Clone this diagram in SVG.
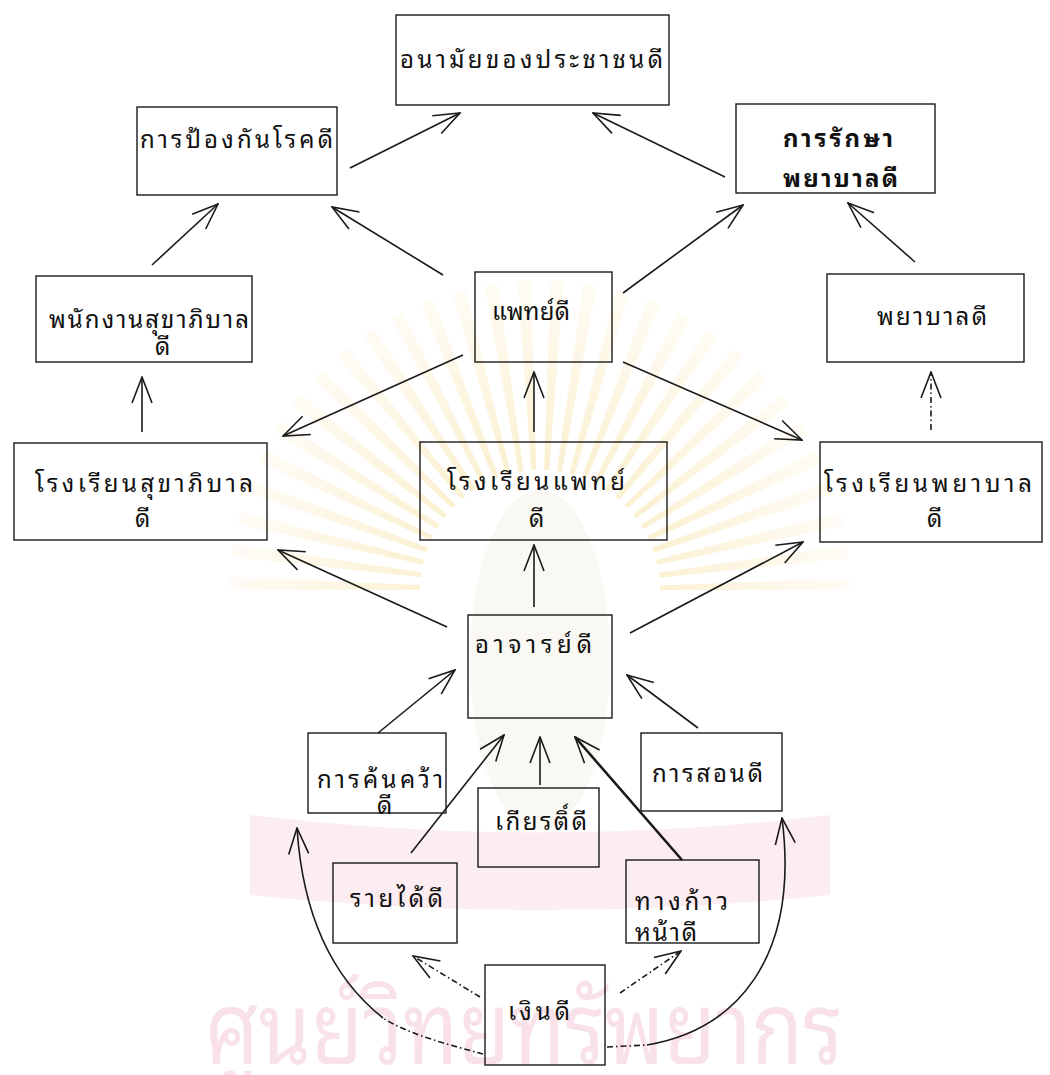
<svg xmlns="http://www.w3.org/2000/svg" width="1050" height="1075" viewBox="0 0 1050 1075">
<style>
.box{fill:none;stroke:#1a1a1a;stroke-width:1.4}
.t{font-family:"Noto Sans Thai Looped","Noto Sans Thai","Noto Sans","DejaVu Sans",sans-serif;font-size:24px;fill:#111}
.b{font-weight:bold}
.c{fill:none;stroke:#1a1a1a;stroke-width:1.6;marker-end:url(#ah)}
.d{stroke-dasharray:6 3 1.5 3}
.wm{font-family:"Noto Sans Thai Looped","Noto Sans Thai","Noto Sans","DejaVu Sans",sans-serif;font-size:100px;fill:#f8e1e8}
</style>
<defs>
<marker id="ah" viewBox="0 0 28 22" refX="27" refY="11" markerWidth="28" markerHeight="22" markerUnits="userSpaceOnUse" orient="auto">
<path d="M1,1 L27,11 L1,21" fill="none" stroke="#1a1a1a" stroke-width="1.6"/>
</marker>
<radialGradient id="rg" gradientUnits="userSpaceOnUse" cx="540" cy="575" r="300">
<stop offset="0.35" stop-color="#f8e8b8"/>
<stop offset="1" stop-color="#fefaef"/>
</radialGradient>
</defs>
<rect width="1050" height="1075" fill="#ffffff"/>
<g id="watermark">
<path d="M325,590 A215,215 0 0 1 755,590" fill="none" stroke="url(#rg)" stroke-width="190" stroke-dasharray="9 14" opacity="0.65"/>
<ellipse cx="540" cy="660" rx="70" ry="170" fill="#faf8f2"/>
<path d="M250,815 Q540,850 830,815 L830,895 Q540,925 250,895 Z" fill="#fcedf2"/>
<text class="wm" x="205" y="1064" textLength="638" lengthAdjust="spacingAndGlyphs">ศูนย์วิทยทรัพยากร</text>
</g>
<g id="connectors">
<line class="c" x1="350" y1="168" x2="460" y2="113"/>
<line class="c" x1="725" y1="177" x2="593" y2="113"/>
<line class="c" x1="152" y1="265" x2="218" y2="204"/>
<line class="c" x1="443" y1="275" x2="332" y2="207"/>
<line class="c" x1="623" y1="293" x2="743" y2="205"/>
<line class="c" x1="915" y1="262" x2="848" y2="203"/>
<line class="c" x1="142" y1="432" x2="142" y2="377"/>
<line class="c" x1="463" y1="355" x2="283" y2="436"/>
<line class="c" x1="534" y1="432" x2="534" y2="372"/>
<line class="c" x1="623" y1="362" x2="802" y2="440"/>
<line class="c d" x1="931" y1="430" x2="931" y2="372"/>
<line class="c" x1="534" y1="607" x2="534" y2="545"/>
<line class="c" x1="447" y1="627" x2="278" y2="550"/>
<line class="c" x1="630" y1="633" x2="803" y2="542"/>
<line class="c" x1="378" y1="733" x2="455" y2="670"/>
<line class="c" x1="411" y1="853" x2="504" y2="735"/>
<line class="c" x1="540" y1="785" x2="540" y2="737"/>
<line class="c" x1="682" y1="860" x2="575" y2="737" style="stroke-width:2.6"/>
<line class="c" x1="698" y1="728" x2="627" y2="675"/>
<line class="c d" x1="480" y1="997" x2="413" y2="956"/>
<line class="c d" x1="620" y1="993" x2="681" y2="951"/>
<path class="c d" d="M483,1054 C450,1045 410,1035 383,1018" style="marker-end:none"/>
<path class="c" d="M383,1018 C335,980 303,920 297,828"/>
<path class="c d" d="M607,1047 L647,1045" style="marker-end:none"/>
<path class="c" d="M647,1045 C735,1030 800,960 782,818"/>
</g>
<g id="n_health"><rect class="box" x="396" y="15" width="273" height="90"/><text class="t" x="400" y="68" textLength="263" lengthAdjust="spacing">อนามัยของประชาชนดี</text></g>
<g id="n_prevent"><rect class="box" x="137" y="107" width="200" height="88"/><text class="t" x="140" y="148" textLength="193" lengthAdjust="spacing">การป้องกันโรคดี</text></g>
<g id="n_treat"><rect class="box" x="736" y="104" width="199" height="89"/><text class="t b" x="783" y="147" textLength="110" lengthAdjust="spacing">การรักษา</text><text class="t b" x="783" y="187" textLength="115" lengthAdjust="spacing">พยาบาลดี</text></g>
<g id="n_sanitary"><rect class="box" x="36" y="276" width="216" height="86"/><text class="t" x="49" y="328" textLength="200" lengthAdjust="spacing">พนักงานสุขาภิบาล</text><text class="t" x="155" y="355">ดี</text></g>
<g id="n_doctor"><rect class="box" x="475" y="272" width="137" height="90"/><text class="t" x="492" y="320" textLength="78" lengthAdjust="spacing">แพทย์ดี</text></g>
<g id="n_nurse"><rect class="box" x="827" y="274" width="197" height="88"/><text class="t" x="877" y="325" textLength="110" lengthAdjust="spacing">พยาบาลดี</text></g>
<g id="n_sanschool"><rect class="box" x="14" y="443" width="253" height="97"/><text class="t" x="35" y="492" textLength="218" lengthAdjust="spacing">โรงเรียนสุขาภิบาล</text><text class="t" x="135" y="527">ดี</text></g>
<g id="n_medschool"><rect class="box" x="420" y="442" width="247" height="98"/><text class="t" x="447" y="490" textLength="178" lengthAdjust="spacing">โรงเรียนแพทย์</text><text class="t" x="529" y="527">ดี</text></g>
<g id="n_nurseschool"><rect class="box" x="820" y="442" width="222" height="100"/><text class="t" x="824" y="492" textLength="208" lengthAdjust="spacing">โรงเรียนพยาบาล</text><text class="t" x="927" y="527">ดี</text></g>
<g id="n_teacher"><rect class="box" x="468" y="615" width="144" height="103"/><text class="t" x="475" y="653" textLength="117" lengthAdjust="spacing">อาจารย์ดี</text></g>
<g id="n_research"><rect class="box" x="308" y="733" width="138" height="80"/><text class="t" x="317" y="788" textLength="126" lengthAdjust="spacing">การค้นคว้า</text><text class="t" x="377" y="814">ดี</text></g>
<g id="n_honor"><rect class="box" x="478" y="788" width="121" height="79"/><text class="t" x="495" y="830" textLength="92" lengthAdjust="spacing">เกียรติ์ดี</text></g>
<g id="n_teaching"><rect class="box" x="641" y="733" width="141" height="78"/><text class="t" x="652" y="782" textLength="111" lengthAdjust="spacing">การสอนดี</text></g>
<g id="n_income"><rect class="box" x="333" y="863" width="124" height="80"/><text class="t" x="350" y="907" textLength="93" lengthAdjust="spacing">รายได้ดี</text></g>
<g id="n_career"><rect class="box" x="626" y="860" width="133" height="83"/><text class="t" x="635" y="910" textLength="93" lengthAdjust="spacing">ทางก้าว</text><text class="t" x="635" y="941" textLength="62" lengthAdjust="spacing">หน้าดี</text></g>
<g id="n_money"><rect class="box" x="485" y="965" width="120" height="100"/><text class="t" x="508" y="1020" textLength="62" lengthAdjust="spacing">เงินดี</text></g>
</svg>
